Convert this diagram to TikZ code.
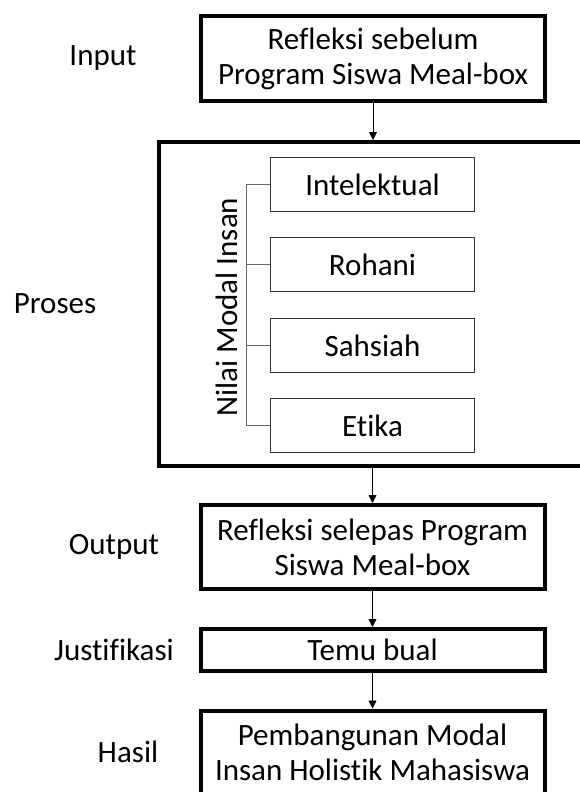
\documentclass[tikz,border=0pt]{standalone}
\usepackage{fontspec}
\setmainfont{Carlito}[Ligatures=NoCommon]
\usetikzlibrary{arrows.meta}

\begin{document}
\begin{tikzpicture}[x=1pt, y=-1pt,
                    every node/.style={font=\fontsize{31}{35}\selectfont},
                    lbl_style/.style={},
                    main_box/.style={draw, line width=4pt, align=center, minimum width=344pt},
                    sub_box/.style={draw=black!80, line width=1pt, minimum width=204pt, minimum height=54pt},
                    edge_style/.style={-{Triangle[length=8pt,width=8pt]}, draw=black, line width=0.8pt},
                    branch/.style={draw=black!60, line width=1pt}
   ]
   \clip (0,0) rectangle (580,792);
   % Stages
   \node[lbl_style] (l_input) at (103,58.5) {Input};
   \node[lbl_style] (l_proses) at (55,304) {Proses};
   \node[lbl_style] (l_output) at (114,547) {Output};
   \node[lbl_style] (l_just) at (114,650) {Justifikasi};
   \node[lbl_style] (l_hasil) at (128,752) {Hasil};
   % Boxes
   \node[main_box, minimum height=84pt] (input) at (373,58.5) {Refleksi sebelum\\Program Siswa Meal-box};
   \node[draw, line width=4pt, minimum width=429pt, minimum height=324pt] (proses) at (373.5,304) {};
   \node[main_box, minimum height=84pt] (output) at (372.5,547) {Refleksi selepas Program\\Siswa Meal-box};
   \node[main_box, minimum height=42pt] (just) at (372.5,650) {Temu bual};
   \node[main_box, minimum height=84pt] (hasil) at (372.5,752.5) {Pembangunan Modal\\Insan Holistik Mahasiswa};
   % Nilai
   \node[sub_box] (intel) at (372.5,184.5) {Intelektual};
   \node[sub_box] (rohani) at (372.5,264.5) {Rohani};
   \node[sub_box] (sahsiah) at (372.5,345.5) {Sahsiah};
   \node[sub_box] (etika) at (372.5,425.5) {Etika};
   \node[rotate=90] (nilai) at (227,307) {Nilai Modal Insan};

    \draw[branch] (intel.west) -- ++(-24,0) |- (etika.west);
    \draw[branch] (rohani.west) -- ++(-24,0);
    \draw[branch] (sahsiah.west) -- ++(-24,0);
    \draw[edge_style] (input) -- (proses.north -| input.south);
    \draw[edge_style] (proses.south -| output.north) -- (output);
    \draw[edge_style] (output) -- (just);
    \draw[edge_style] (just) -- (hasil);
    \end{tikzpicture}
\end{document}
